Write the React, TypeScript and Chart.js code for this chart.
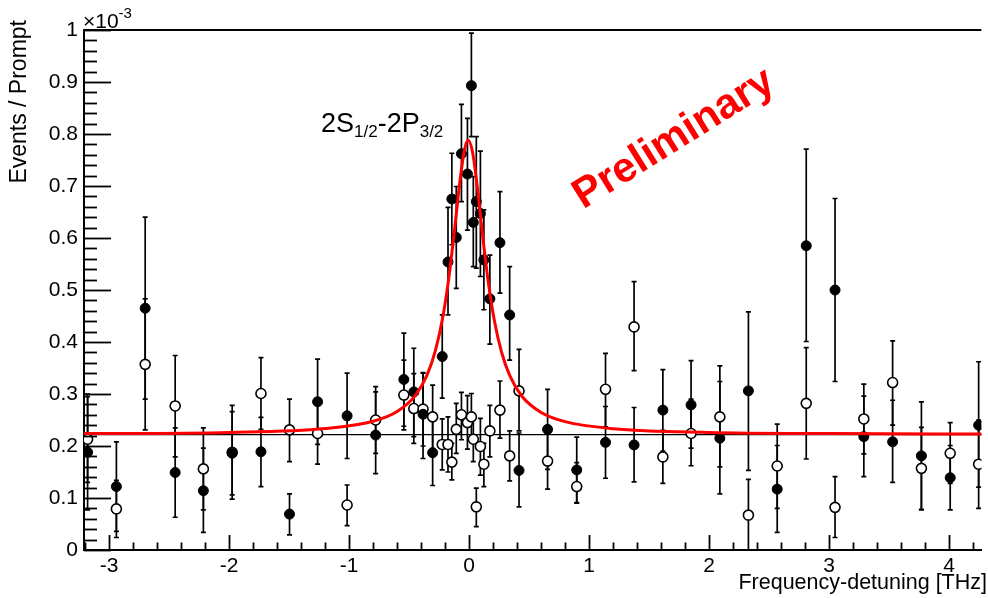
import { useEffect, useRef } from 'react';
import { Chart, registerables } from 'chart.js';
Chart.register(...registerables);

// Frequency detuning [THz]
const X_VALUES = [-3.18, -2.94, -2.70, -2.45, -2.215, -1.975, -1.735, -1.497, -1.263, -1.017, -0.779, -0.544, -0.461, -0.384, -0.304, -0.224, -0.176, -0.144, -0.107, -0.064, -0.014, 0.019, 0.035, 0.06, 0.094, 0.123, 0.173, 0.257, 0.338, 0.416, 0.654, 0.897, 1.137, 1.375, 1.615, 1.85, 2.09, 2.328, 2.568, 2.81, 3.05, 3.29, 3.53, 3.77, 4.01, 4.247];

// Filled markers (units of 1e-3)
const FILLED_Y = [0.188, 0.122, 0.465, 0.149, 0.114, 0.186, 0.189, 0.069, 0.285, 0.258, 0.221, 0.328, 0.304, 0.261, 0.187, 0.372, 0.554, 0.675, 0.601, 0.762, 0.723, 0.893, 0.630, 0.670, 0.647, 0.558, 0.483, 0.591, 0.452, 0.153, 0.232, 0.154, 0.207, 0.202, 0.269, 0.279, 0.215, 0.306, 0.117, 0.585, 0.500, 0.218, 0.208, 0.181, 0.139, 0.240];
const FILLED_LO = [0.077, 0.036, 0.29, 0.063, 0.034, 0.106, 0.122, 0.029, 0.203, 0.176, 0.147, 0.238, 0.218, 0.176, 0.124, 0.292, 0.452, 0.587, 0.503, 0.670, 0.615, 0.795, 0.545, 0.542, 0.526, 0.462, 0.396, 0.494, 0.365, 0.083, 0.155, 0.09, 0.138, 0.131, 0.19, 0.196, 0.108, 0.153, 0.034, 0.401, 0.324, 0.141, 0.130, 0.077, 0.077, 0.121];
const FILLED_HI = [0.30, 0.208, 0.64, 0.235, 0.196, 0.266, 0.255, 0.108, 0.367, 0.340, 0.304, 0.417, 0.388, 0.341, 0.25, 0.452, 0.659, 0.763, 0.699, 0.857, 0.830, 0.994, 0.718, 0.795, 0.767, 0.654, 0.567, 0.689, 0.545, 0.225, 0.309, 0.217, 0.276, 0.274, 0.347, 0.364, 0.324, 0.458, 0.201, 0.771, 0.676, 0.296, 0.288, 0.285, 0.201, 0.362];

// Open markers (units of 1e-3)
const OPEN_Y = [0.213, 0.079, 0.357, 0.277, 0.156, 0.188, 0.301, 0.231, 0.224, 0.0865, 0.25, 0.298, 0.272, 0.271, 0.256, 0.203, 0.203, 0.169, 0.232, 0.26, 0.245, 0.256, 0.213, 0.083, 0.199, 0.165, 0.229, 0.269, 0.181, 0.306, 0.171, 0.122, 0.309, 0.429, 0.179, 0.224, 0.256, 0.067, 0.1615, 0.282, 0.082, 0.252, 0.322, 0.157, 0.186, 0.165];
const OPEN_LO = [0.13, 0.024, 0.231, 0.179, 0.077, 0.098, 0.232, 0.170, 0.165, 0.047, 0.186, 0.231, 0.205, 0.20, 0.195, 0.154, 0.15, 0.135, 0.186, 0.212, 0.194, 0.21, 0.170, 0.045, 0.144, 0.122, 0.179, 0.215, 0.133, 0.229, 0.117, 0.091, 0.237, 0.345, 0.128, 0.162, 0.160, -0.01, 0.080, 0.175, 0.024, 0.185, 0.240, 0.078, 0.128, 0.080];
const OPEN_HI = [0.295, 0.134, 0.483, 0.374, 0.235, 0.278, 0.370, 0.290, 0.283, 0.125, 0.314, 0.365, 0.339, 0.34, 0.317, 0.252, 0.256, 0.205, 0.282, 0.303, 0.297, 0.301, 0.256, 0.119, 0.253, 0.205, 0.278, 0.325, 0.229, 0.386, 0.225, 0.168, 0.378, 0.516, 0.23, 0.29, 0.354, 0.136, 0.242, 0.389, 0.141, 0.319, 0.402, 0.236, 0.245, 0.25];

// Fitted resonance curve (red)
const FIT_X = [-3.3, -2, -1.2, -0.8, -0.6, -0.45, -0.35, -0.28, -0.22, -0.17, -0.12, -0.08, -0.04, -0.007, 0.03, 0.07, 0.11, 0.16, 0.21, 0.27, 0.34, 0.44, 0.6, 0.8, 1.2, 2, 3, 4.3];
const FIT_Y = [0.2237, 0.2262, 0.2337, 0.2477, 0.2664, 0.2969, 0.3368, 0.3842, 0.447, 0.5218, 0.6186, 0.7025, 0.7681, 0.788, 0.7633, 0.6945, 0.6105, 0.515, 0.442, 0.3808, 0.3347, 0.2957, 0.2645, 0.2469, 0.2334, 0.2262, 0.2239, 0.2229];

// Flat background level (black line)
const BASELINE_X = [-3.3, 4.3];
const BASELINE_Y = [0.222, 0.222];

const X_MIN = -3.21;
const X_MAX = 4.27;
const X_TICKS = [-3, -2, -1, 0, 1, 2, 3, 4];
const Y_TICKS = [0, 0.1, 0.2, 0.3, 0.4, 0.5, 0.6, 0.7, 0.8, 0.9, 1];

const FONT = '"Liberation Sans", Arial, Helvetica, sans-serif';

const ERRORS: Record<string, { lo: number[]; hi: number[] }> = {
  filled: { lo: FILLED_LO, hi: FILLED_HI },
  open: { lo: OPEN_LO, hi: OPEN_HI },
};

const errorBarPlugin = {
  id: 'errorBars',
  beforeDatasetsDraw(chart: any) {
    const { ctx, chartArea, scales } = chart;
    const xs = scales.x;
    const ys = scales.y;
    ctx.save();
    ctx.beginPath();
    ctx.rect(chartArea.left, chartArea.top, chartArea.right - chartArea.left, chartArea.bottom - chartArea.top);
    ctx.clip();
    ctx.strokeStyle = '#000';
    ctx.lineWidth = 1.7;
    chart.data.datasets.forEach((ds: any) => {
      const e = ERRORS[ds.label];
      if (!e) return;
      ds.data.forEach((p: any, j: number) => {
        const px = xs.getPixelForValue(p.x);
        const y1 = ys.getPixelForValue(e.lo[j]);
        const y2 = ys.getPixelForValue(e.hi[j]);
        ctx.beginPath();
        ctx.moveTo(px, y1);
        ctx.lineTo(px, y2);
        ctx.moveTo(px - 2.5, y1);
        ctx.lineTo(px + 2.5, y1);
        ctx.moveTo(px - 2.5, y2);
        ctx.lineTo(px + 2.5, y2);
        ctx.stroke();
      });
    });
    ctx.restore();
  },
};

const frameAndTextPlugin = {
  id: 'frameText',
  afterDatasetsDraw(chart: any) {
    const { ctx, chartArea, scales } = chart;
    const xs = scales.x;
    const ys = scales.y;
    ctx.save();
    ctx.strokeStyle = '#000';
    ctx.lineWidth = 1.8;
    // y ticks (inward)
    const y0 = Y_TICKS[0];
    const y1 = Y_TICKS[Y_TICKS.length - 1];
    for (let k = 0; k <= Math.round((y1 - y0) / 0.02); k++) {
      const v = y0 + k * 0.02;
      const major = k % 5 === 0;
      const py = Math.round(ys.getPixelForValue(v)) + 0.5;
      ctx.beginPath();
      ctx.moveTo(chartArea.left, py);
      ctx.lineTo(chartArea.left + (major ? 27 : 13), py);
      ctx.stroke();
    }
    // x ticks (inward)
    const start = Math.ceil(X_MIN / 0.2);
    const end = Math.floor(X_MAX / 0.2);
    for (let k = start; k <= end; k++) {
      const v = k * 0.2;
      const major = k % 5 === 0;
      const px = Math.round(xs.getPixelForValue(v)) + 0.5;
      ctx.beginPath();
      ctx.moveTo(px, chartArea.bottom);
      ctx.lineTo(px, chartArea.bottom - (major ? 15 : 7.5));
      ctx.stroke();
    }
    // top frame
    ctx.lineWidth = 2;
    ctx.beginPath();
    ctx.moveTo(chartArea.left, chartArea.top);
    ctx.lineTo(chartArea.right, chartArea.top);
    ctx.stroke();
    ctx.restore();
  },
  afterDraw(chart: any) {
    const { ctx } = chart;
    ctx.save();
    ctx.fillStyle = '#000';
    ctx.textBaseline = 'alphabetic';
    // exponent
    ctx.font = `21px ${FONT}`;
    ctx.textAlign = 'left';
    ctx.fillText('\u00d710', 83, 28);
    const w = ctx.measureText('\u00d710').width;
    ctx.font = `15px ${FONT}`;
    ctx.fillText('-3', 83 + w, 18);
    // y title
    ctx.save();
    ctx.translate(26, 20);
    ctx.rotate(-Math.PI / 2);
    ctx.font = `23px ${FONT}`;
    ctx.textAlign = 'right';
    ctx.fillText('Events / Prompt', 0, 0);
    ctx.restore();
    // x title
    ctx.font = `21.5px ${FONT}`;
    ctx.textAlign = 'right';
    ctx.fillText('Frequency-detuning [THz]', 987, 589);
    // transition label
    ctx.textAlign = 'left';
    let x = 321;
    const parts: [string, number, number][] = [
      ['2S', 27, 132],
      ['1/2', 17, 137],
      ['-2P', 27, 132],
      ['3/2', 17, 137],
    ];
    parts.forEach(([t, s, by]) => {
      ctx.font = `${s}px ${FONT}`;
      ctx.fillText(t, x, by);
      x += ctx.measureText(t).width;
    });
    // Preliminary
    ctx.save();
    ctx.translate(674, 139);
    ctx.rotate((-32 * Math.PI) / 180);
    ctx.font = `bold 42px ${FONT}`;
    ctx.fillStyle = '#ff0000';
    ctx.textAlign = 'center';
    ctx.textBaseline = 'middle';
    ctx.fillText('Preliminary', 0, 0);
    ctx.restore();
    ctx.restore();
  },
};

export default function App() {
  const ref = useRef<HTMLCanvasElement | null>(null);
  useEffect(() => {
    if (!ref.current) return;
    const chart = new Chart(ref.current, {
      type: 'scatter',
      data: {
        datasets: [
          {
            label: 'fit',
            data: FIT_X.map((x, i) => ({ x, y: FIT_Y[i] })),
            showLine: true,
            borderColor: '#ff0000',
            borderWidth: 3,
            pointRadius: 0,
            cubicInterpolationMode: 'monotone',
            order: 0,
          } as any,
          {
            label: 'filled',
            data: X_VALUES.map((x, i) => ({ x, y: FILLED_Y[i] })),
            pointRadius: 5,
            pointBackgroundColor: '#000',
            pointBorderColor: '#000',
            pointBorderWidth: 1,
            order: 1,
          },
          {
            label: 'open',
            data: X_VALUES.map((x, i) => ({ x, y: OPEN_Y[i] })),
            pointRadius: 5,
            pointBackgroundColor: '#fff',
            pointBorderColor: '#000',
            pointBorderWidth: 1.6,
            order: 2,
          },
          {
            label: 'baseline',
            data: BASELINE_X.map((x, i) => ({ x, y: BASELINE_Y[i] })),
            showLine: true,
            borderColor: '#000',
            borderWidth: 1.2,
            pointRadius: 0,
            order: 3,
          },
        ],
      },
      options: {
        animation: false,
        responsive: false,
        layout: { padding: { left: 0, right: 0, top: 30, bottom: 0 } },
        plugins: { legend: { display: false }, tooltip: { enabled: false } },
        scales: {
          x: {
            type: 'linear',
            min: X_MIN,
            max: X_MAX,
            afterBuildTicks: (s: any) => {
              s.ticks = X_TICKS.map((v) => ({ value: v }));
            },
            afterFit: (s: any) => {
              s.height = 48;
            },
            grid: { display: false, drawTicks: false },
            border: { display: true, color: '#000', width: 2 },
            ticks: {
              color: '#000',
              font: { family: FONT, size: 21 },
              padding: 4,
              maxRotation: 0,
              autoSkip: false,
              callback: (v: any) => String(v),
            },
          },
          y: {
            type: 'linear',
            min: 0,
            max: 1,
            afterBuildTicks: (s: any) => {
              s.ticks = Y_TICKS.map((v) => ({ value: v }));
            },
            afterFit: (s: any) => {
              s.width = 84;
            },
            grid: { display: false, drawTicks: false },
            border: { display: true, color: '#000', width: 2 },
            ticks: {
              color: '#000',
              font: { family: FONT, size: 21 },
              padding: 6,
              autoSkip: false,
              callback: (v: any) => String(+Number(v).toFixed(1)),
            },
          },
        },
      },
      plugins: [errorBarPlugin, frameAndTextPlugin],
    });
    return () => chart.destroy();
  }, []);
  return (
    <div style={{ position: 'absolute', left: 0, top: 0, width: 988, height: 598, background: '#fff' }}>
      <canvas ref={ref} width={988} height={598} style={{ display: 'block' }} />
    </div>
  );
}
